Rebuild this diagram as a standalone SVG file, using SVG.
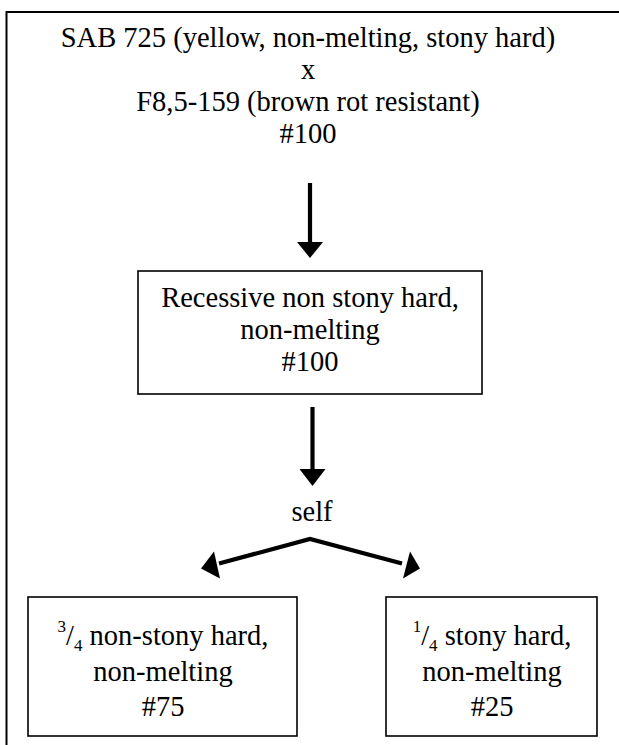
<svg xmlns="http://www.w3.org/2000/svg" width="619" height="745" viewBox="0 0 619 745">
<style>
text{font-family:"Liberation Serif","Times New Roman",serif;font-size:28.5px;fill:#000;text-anchor:middle}
.box{fill:#fff;stroke:#000;stroke-width:1.6}
.ln{stroke:#000;stroke-width:4.2;fill:none}
.hd{fill:#000;stroke:none}
.sm{font-size:17px}
</style>
<rect width="619" height="745" fill="#fff"/>
<path d="M6.5,746 V12 H620" fill="none" stroke="#000" stroke-width="2"/>
<g id="parents" font-family="Liberation Serif, serif">
<text x="308" y="47">SAB 725 (yellow, non-melting, stony hard)</text>
<text x="308" y="79">x</text>
<text x="308" y="111">F8,5-159 (brown rot resistant)</text>
<text x="308" y="143">#100</text>
</g>
<g id="f1" font-family="Liberation Serif, serif">
<rect class="box" x="138" y="271" width="344" height="123"/>
<text x="310" y="307">Recessive non stony hard,</text>
<text x="310" y="339">non-melting</text>
<text x="310" y="371">#100</text>
</g>
<g id="self" font-family="Liberation Serif, serif">
<text x="312" y="521">self</text>
</g>
<g id="nonstony" font-family="Liberation Serif, serif">
<rect class="box" x="28" y="597" width="269" height="139"/>
<text x="163" y="645"><tspan class="sm" dy="-13">3</tspan><tspan dy="13">/</tspan><tspan class="sm" dy="6">4</tspan><tspan dy="-6"> non-stony hard,</tspan></text>
<text x="163" y="681">non-melting</text>
<text x="163" y="716">#75</text>
</g>
<g id="stony" font-family="Liberation Serif, serif">
<rect class="box" x="386" y="597" width="211" height="139"/>
<text x="492" y="645"><tspan class="sm" dy="-13">1</tspan><tspan dy="13">/</tspan><tspan class="sm" dy="6">4</tspan><tspan dy="-6"> stony hard,</tspan></text>
<text x="492" y="681">non-melting</text>
<text x="492" y="716">#25</text>
</g>
<g id="connectors">
<line class="ln" x1="310" y1="183" x2="310" y2="244"/>
<polygon class="hd" points="297,242 323,242 310,258"/>
<line class="ln" x1="312.5" y1="407" x2="312.5" y2="471"/>
<polygon class="hd" points="299.5,469 325.5,469 312.5,486"/>
<polyline class="ln" points="219,563.5 310,539 402,563.5"/>
<polygon class="hd" points="201,568.5 214,551.5 220,578.5"/>
<polygon class="hd" points="420,568.5 410,551.5 403,578.5"/>
</g>
</svg>
